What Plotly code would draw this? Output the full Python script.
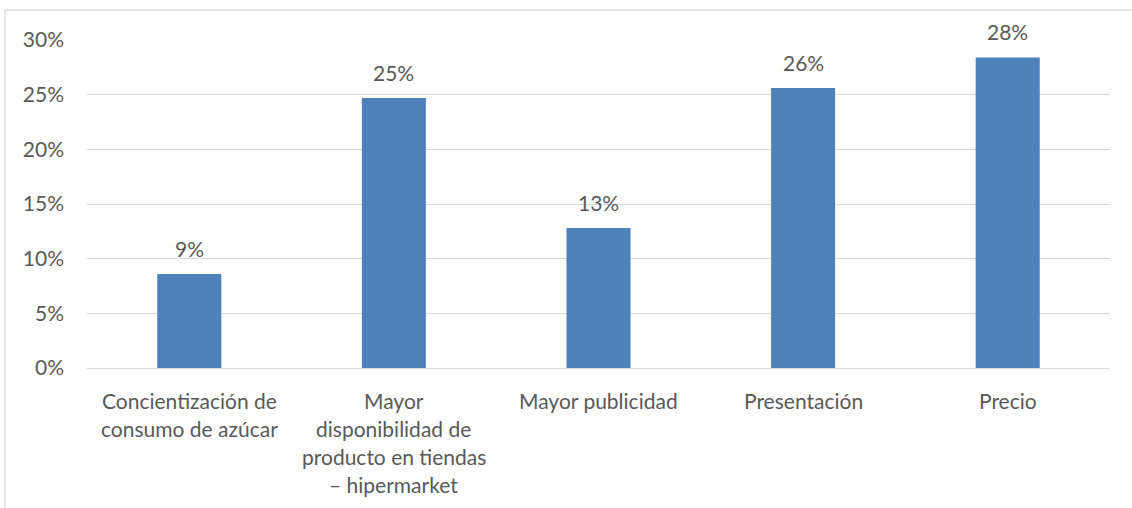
import plotly.graph_objects as go

# Factores que influyen en la compra
categorias = [
    "Concientización de<br>consumo de azúcar",
    "Mayor<br>disponibilidad de<br>producto en tiendas<br>– hipermarket",
    "Mayor publicidad",
    "Presentación",
    "Precio",
]
valores = [0.086, 0.247, 0.128, 0.256, 0.284]
ticks_y = [0, 0.05, 0.10, 0.15, 0.20, 0.25, 0.30]

FUENTE = "Lato"
GRIS_TEXTO = "#595959"
GRIS_LINEA = "#D9D9D9"
AZUL = "#4F81BD"
TAM = 21

x_idx = list(range(len(categorias)))

fig = go.Figure(
    go.Bar(
        x=x_idx,
        y=valores,
        marker=dict(color=AZUL, line=dict(width=0)),
        width=0.313,
        hoverinfo="skip",
    )
)

# Etiquetas de datos sobre cada barra
for i, v in zip(x_idx, valores):
    fig.add_annotation(
        x=i, y=v, xref="x", yref="y",
        text=f"{v:.0%}",
        showarrow=False, yanchor="bottom", yshift=11,
        font=dict(family=FUENTE, size=TAM, color=GRIS_TEXTO),
    )

# Etiquetas de categoría, una línea por anotación para controlar el interlineado
for i, etiqueta in zip(x_idx, categorias):
    for j, linea in enumerate(etiqueta.split("<br>")):
        fig.add_annotation(
            x=i, y=0, xref="x", yref="y",
            text=linea,
            showarrow=False, yanchor="middle",
            yshift=-(32 + 28 * j),
            font=dict(family=FUENTE, size=TAM, color=GRIS_TEXTO),
        )

# Marco del área del gráfico
borde = dict(color=GRIS_LINEA, width=1.3)
fig.add_shape(type="line", xref="paper", yref="paper",
              x0=-0.0802, x1=1.05, y0=1.0915, y1=1.0915, line=borde)
fig.add_shape(type="line", xref="paper", yref="paper",
              x0=-0.0802, x1=-0.0802, y0=1.0915, y1=-0.45, line=borde)

fig.update_layout(
    width=1132,
    height=508,
    margin=dict(l=87, r=22, t=40, b=140),
    paper_bgcolor="white",
    plot_bgcolor="white",
    showlegend=False,
    font=dict(family=FUENTE, size=TAM, color=GRIS_TEXTO),
    xaxis=dict(
        range=[-0.5, len(categorias) - 0.5],
        showticklabels=False,
        showgrid=False,
        zeroline=False,
        showline=False,
        fixedrange=True,
    ),
    yaxis=dict(
        range=[0, 0.30],
        tickvals=ticks_y,
        tickformat=".0%",
        showgrid=True,
        gridcolor=GRIS_LINEA,
        gridwidth=1.3,
        zeroline=True,
        zerolinecolor=GRIS_LINEA,
        zerolinewidth=1.3,
        showline=False,
        ticks="",
        ticklabelstandoff=22,
        tickfont=dict(family=FUENTE, size=TAM, color=GRIS_TEXTO),
        fixedrange=True,
    ),
)

fig.write_html("out.html", config={"displayModeBar": False})
